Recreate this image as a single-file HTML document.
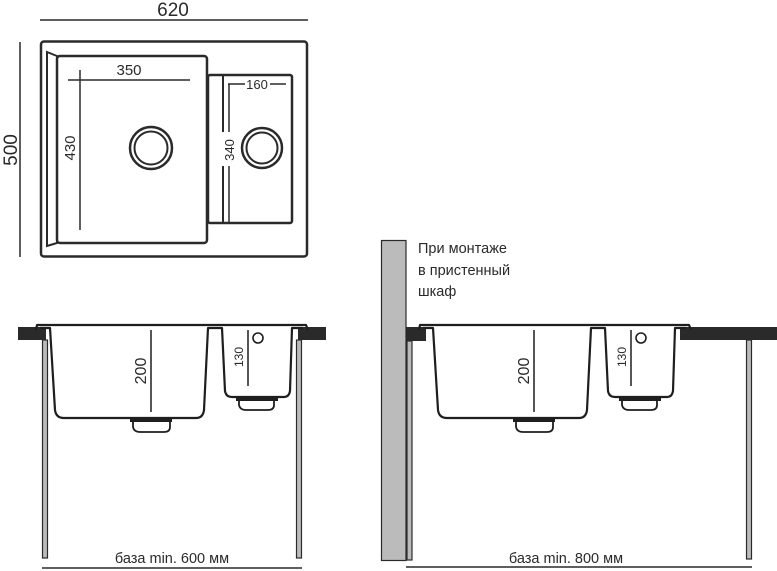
<!DOCTYPE html>
<html><head><meta charset="utf-8"><style>
html,body{margin:0;padding:0;background:#fff;}
svg{display:block;font-family:"Liberation Sans","DejaVu Sans",sans-serif;}
</style></head><body>
<svg width="777" height="571" viewBox="0 0 777 571" xmlns="http://www.w3.org/2000/svg">
<!-- TOP VIEW -->
<g stroke="#2a2a2a" fill="none">
<line x1="40" y1="20" x2="308" y2="20" stroke-width="1.5"/>
<line x1="20" y1="42" x2="20" y2="257" stroke-width="1.5"/>
<rect x="41" y="41.5" width="266" height="215" rx="3" stroke-width="2.5"/>
<path d="M47 52 L57 56 L57 243 L47 246 Z" stroke-width="2"/>
<rect x="57" y="56" width="150" height="187" rx="3" stroke-width="2.5"/>
<rect x="208" y="75" width="84" height="148" rx="2" stroke-width="2.5"/>
<line x1="223" y1="75" x2="223" y2="223" stroke-width="2"/>
<line x1="68" y1="80" x2="190" y2="80" stroke-width="1.5"/>
<line x1="80" y1="70" x2="80" y2="230" stroke-width="1.5"/>
<line x1="228" y1="84" x2="245" y2="84" stroke-width="1.5"/>
<line x1="270" y1="84" x2="286" y2="84" stroke-width="1.5"/>
<line x1="229" y1="84" x2="229" y2="222" stroke-width="1.5"/>
<circle cx="151" cy="148" r="21" stroke-width="2.5"/>
<circle cx="151" cy="148" r="16.5" stroke-width="2"/>
<circle cx="262" cy="148" r="20" stroke-width="2.5"/>
<circle cx="262" cy="148" r="15.5" stroke-width="2"/>
</g>
<rect x="222" y="132" width="14" height="34" fill="#fff"/>
<g fill="#2a2a2a" text-anchor="middle">
<text x="173" y="16" font-size="19">620</text>
<text x="129" y="75" font-size="15">350</text>
<text x="257" y="89" font-size="13">160</text>
<text transform="translate(17,150) rotate(-90)" font-size="19">500</text>
<text transform="translate(75,148) rotate(-90)" font-size="15">430</text>
<text transform="translate(234,150) rotate(-90)" font-size="13">340</text>
</g>

<!-- LEFT SIDE VIEW -->
<rect x="18" y="327" width="28" height="13" fill="#2a2a2a"/>
<rect x="298" y="327" width="28" height="13" fill="#2a2a2a"/>
<rect x="42.5" y="340" width="5" height="218" fill="#bbb" stroke="#2a2a2a" stroke-width="1.2"/>
<rect x="296.5" y="340" width="5" height="218" fill="#bbb" stroke="#2a2a2a" stroke-width="1.2"/>
<g id="sink">
<g stroke="#1e1e1e" fill="none" stroke-width="2.2" stroke-linejoin="round">
<path d="M36 330 L37 325 L306 325 L308 330"/>
<path d="M40 328 L50 328 L55 410 Q56 418 64 418 L196 418 Q203 418 204 410 L208 328 L222 328 L225 391 Q226 397 232 397 L284 397 Q289 397 290 391 L292 328 L303 328"/>
<path d="M133 422 L133 427 Q134 432 140 432 L164 432 Q170 432 170 427 L170 422" stroke-width="1.8"/>
<path d="M239 401 L239 405 Q240 410 246 410 L268 410 Q274 410 274 405 L274 401" stroke-width="1.8"/>
<circle cx="258" cy="338" r="5" stroke-width="1.6"/>
<line x1="151" y1="330" x2="151" y2="412" stroke-width="1.5"/>
<line x1="248" y1="330" x2="248" y2="386" stroke-width="1.5"/>
</g>
<rect x="130" y="418" width="42" height="4" fill="#1e1e1e"/>
<rect x="236" y="397" width="42" height="4" fill="#1e1e1e"/>
<g fill="#2a2a2a" text-anchor="middle">
<text transform="translate(146,371) rotate(-90)" font-size="16">200</text>
<text transform="translate(243,357) rotate(-90)" font-size="12">130</text>
</g>
</g>
<line x1="42" y1="568" x2="302" y2="568" stroke="#2a2a2a" stroke-width="1.5"/>
<text x="172" y="563" font-size="14.5" fill="#2a2a2a" text-anchor="middle">база min. 600 мм</text>

<!-- RIGHT SIDE VIEW -->
<rect x="381.5" y="240.5" width="24.5" height="320" fill="#bbb" stroke="#2a2a2a" stroke-width="1.2"/>
<rect x="406" y="327" width="20" height="14" fill="#2a2a2a"/>
<rect x="680" y="327" width="97" height="13" fill="#2a2a2a"/>
<rect x="407" y="341" width="5" height="219" fill="#bbb" stroke="#2a2a2a" stroke-width="1.2"/>
<rect x="746.5" y="340" width="5" height="219" fill="#bbb" stroke="#2a2a2a" stroke-width="1.2"/>
<use href="#sink" transform="translate(383,0)"/>
<g fill="#2a2a2a" font-size="14.5">
<text x="418" y="253">При монтаже</text>
<text x="418" y="275">в пристенный</text>
<text x="418" y="296">шкаф</text>
</g>
<line x1="406" y1="567" x2="752" y2="567" stroke="#2a2a2a" stroke-width="1.5"/>
<text x="566" y="563" font-size="14.5" fill="#2a2a2a" text-anchor="middle">база min. 800 мм</text>
</svg>
</body></html>
